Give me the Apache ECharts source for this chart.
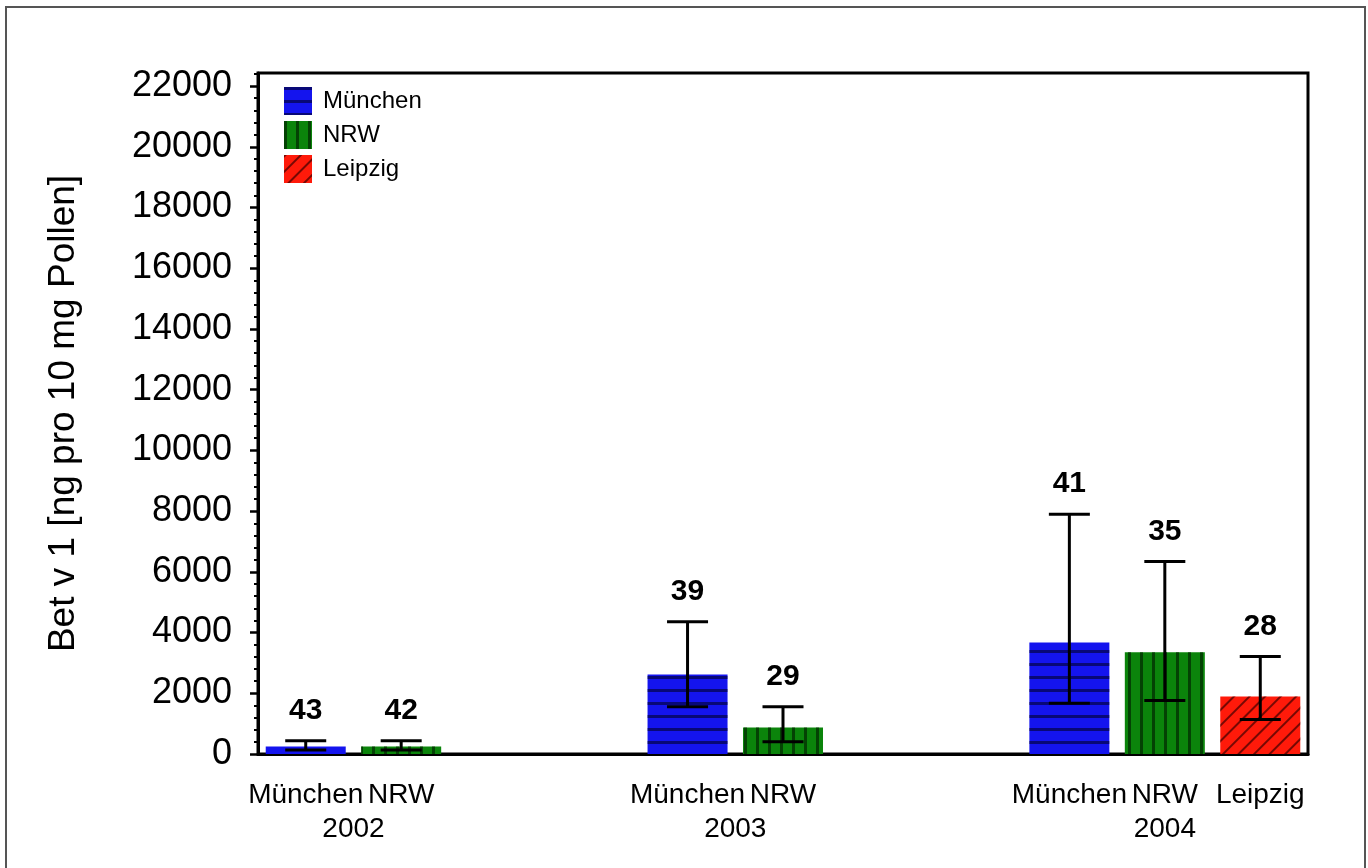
<!DOCTYPE html>
<html>
<head>
<meta charset="utf-8">
<script src="https://cdn.jsdelivr.net/npm/echarts@6/dist/echarts.min.js"></script>
<style>
html,body{margin:0;padding:0;background:#fff;}
#chart{width:1368px;height:868px;}
</style>
</head>
<body>
<div id="chart"></div>
<script>
// ---- data ----
const categories = ['München','NRW','','','München','NRW','','','München','NRW','Leipzig'];
const barYear    = ['2002','2002','','','2003','2003','','','2004','2004','2004'];
const cities     = ['München','NRW','Leipzig'];
const years      = ['2002','2003','2004'];
const means      = [250, 250, null, null, 2620, 870, null, null, 3670, 3350, 1890];
const lowerErr   = [130, 130, null, null, 1560, 405, null, null, 1670, 1760, 1140];
const upperErr   = [440, 440, null, null, 4360, 1560, null, null, 7900, 6340, 3210];
const nCounts    = [43, 42, null, null, 39, 29, null, null, 41, 35, 28];
const yTicks     = [0,2000,4000,6000,8000,10000,12000,14000,16000,18000,20000,22000];
const yMax = 22430;

// ---- styles ----
const FONT = "'Liberation Sans', Arial, sans-serif";
const cityStyle = {
  'München': {color:'#1414ee', decal:{symbol:'rect', symbolSize:1, dashArrayX:[1,0], dashArrayY:[2.5,10], color:'rgba(0,0,40,0.6)'}},
  'NRW':     {color:'#0b840b', decal:{symbol:'rect', symbolSize:1, dashArrayX:[2.5,9], dashArrayY:[1,0], color:'rgba(0,30,0,0.65)'}},
  'Leipzig': {color:'#ff1a0a', decal:{symbol:'rect', symbolSize:1, dashArrayX:[1,0], dashArrayY:[2,9], rotation:-Math.PI/4, color:'rgba(60,0,0,0.7)'}}
};

const yearCenters = years.map(y => {
  const idx = barYear.map((v,i)=> v===y ? i : -1).filter(i=>i>=0);
  return (idx[0] + idx[idx.length-1]) / 2;
});

const barSeries = cities.map(c => ({
  name: c,
  type: 'bar',
  stack: 'all',
  barWidth: 80,
  itemStyle: {color: cityStyle[c].color, decal: cityStyle[c].decal},
  data: means.map((v,i)=> (categories[i]===c && v!=null) ? v : '-'),
  z: 2
}));

const errData = means.map((v,i)=> v==null ? null : [i, lowerErr[i], upperErr[i], nCounts[i]]).filter(d=>d);

const errSeries = {
  type: 'custom',
  name: 'err',
  z: 5,
  silent: true,
  data: errData,
  renderItem: function(params, api){
    const i = api.value(0);
    const lo = api.coord([i, api.value(1)]);
    const hi = api.coord([i, api.value(2)]);
    const hw = 20.5;
    const ls = {stroke:'#000', lineWidth:3};
    return {type:'group', children:[
      {type:'line', shape:{x1:hi[0], y1:hi[1], x2:lo[0], y2:lo[1]}, style:ls},
      {type:'line', shape:{x1:hi[0]-hw, y1:hi[1], x2:hi[0]+hw, y2:hi[1]}, style:ls},
      {type:'line', shape:{x1:lo[0]-hw, y1:lo[1], x2:lo[0]+hw, y2:lo[1]}, style:ls},
      {type:'text', x:hi[0], y:hi[1]-30, style:{text:String(api.value(3)), font:"bold 30px "+FONT, fill:'#000', align:'center', verticalAlign:'middle'}}
    ]};
  }
};

const chart = echarts.init(document.getElementById('chart'), null, {renderer:'canvas'});
chart.setOption({
  backgroundColor:'#fff',
  animation:false,
  textStyle:{fontFamily:FONT, color:'#000'},
  graphic:[{type:'rect', shape:{x:6, y:7, width:1359, height:900}, style:{fill:'none', stroke:'#555', lineWidth:2}, silent:true, z:-1}],
  grid:{left:258, right:60, top:73, bottom:114, show:true, borderColor:'#000', borderWidth:3, backgroundColor:'transparent'},
  legend:{
    orient:'vertical', left:284, top:87, padding:0,
    itemWidth:28, itemHeight:28, itemGap:6,
    icon:'rect',
    data:cities,
    textStyle:{fontSize:24, fontFamily:FONT, color:'#000', padding:[0,0,0,6]}
  },
  xAxis:[
    {type:'category', data:categories, gridIndex:0,
     axisLine:{onZero:false, lineStyle:{color:'#000', width:3}}, axisTick:{show:false},
     axisLabel:{fontSize:28, color:'#000', fontFamily:FONT, margin:27, interval:0},
     splitLine:{show:false}},
    {type:'value', min:-0.5, max:categories.length-0.5, position:'bottom', gridIndex:0,
     axisLine:{show:false, onZero:false}, axisTick:{show:false}, splitLine:{show:false},
     axisLabel:{customValues:yearCenters, fontSize:28, color:'#000', fontFamily:FONT, margin:61,
       formatter:function(v){ const k = yearCenters.indexOf(v); return k>=0 ? years[k] : ''; }}}
  ],
  yAxis:{
    type:'value', min:0, max:yMax, interval:2000,
    name:'Bet v 1 [ng pro 10 mg Pollen]', nameLocation:'middle', nameRotate:90, nameGap:176,
    nameTextStyle:{fontSize:37, color:'#000', fontFamily:FONT},
    axisLine:{show:true, onZero:false, lineStyle:{color:'#000', width:3}},
    axisTick:{show:true, inside:false, length:8, lineStyle:{color:'#000', width:2.5}, customValues:yTicks},
    minorTick:{show:true, splitNumber:5, length:4, lineStyle:{color:'#000', width:2}},
    axisLabel:{fontSize:36, color:'#000', fontFamily:FONT, margin:26, customValues:yTicks,
      padding:[8,0,0,0], formatter:function(v){ return String(v); }},
    splitLine:{show:false}, minorSplitLine:{show:false}
  },
  series:[...barSeries, errSeries]
});
</script>
</body>
</html>
